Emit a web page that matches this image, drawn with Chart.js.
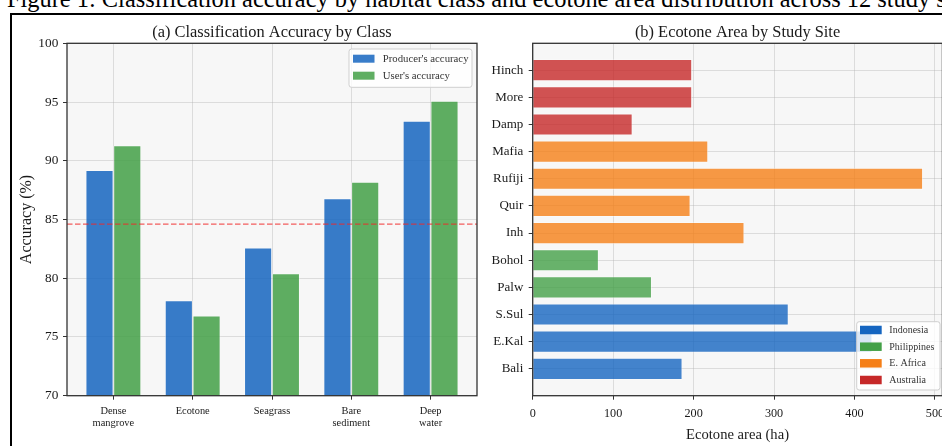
<!DOCTYPE html>
<html>
<head>
<meta charset="utf-8">
<script src="https://cdn.jsdelivr.net/npm/chart.js@4.4.1/dist/chart.umd.min.js"></script>
<style>
  html, body { margin: 0; padding: 0; background: #fff; }
  #fig { position: relative; width: 942px; height: 446px; overflow: hidden; background: #fff; }
  #caption {
    position: absolute; left: 7px; top: -12.8px;
    font-family: 'Liberation Serif', 'Times New Roman', serif;
    font-size: 24.4px; line-height: 24.4px; white-space: nowrap; color: #000;
  }
  #frame {
    position: absolute; left: 10px; top: 13px; width: 1000px; height: 500px;
    border: 2px solid #000; box-sizing: border-box; pointer-events: none;
  }
  canvas { position: absolute; top: 0; }
  #accuracyChart { left: 0; }
  #areaChart { left: 480px; }
</style>
</head>
<body>
<div id="fig">
  <div id="caption">Figure 1: Classification accuracy by habitat class and ecotone area distribution across 12 study sites.</div>
  <canvas id="accuracyChart" width="480" height="446"></canvas>
  <canvas id="areaChart" width="480" height="446"></canvas>
  <div id="frame"></div>
</div>
<script>
// ---- Panel (a): accuracy per habitat class ----
const habitatClasses = ['Dense mangrove', 'Ecotone', 'Seagrass', 'Bare sediment', 'Deep water'];
const classTickLabels = [['Dense', 'mangrove'], ['Ecotone'], ['Seagrass'], ['Bare', 'sediment'], ['Deep', 'water']];
const producersAccuracy = [89.2, 78.1, 82.6, 86.8, 93.4];
const usersAccuracy = [91.3, 76.8, 80.4, 88.2, 95.1];
const overallAccuracy = 84.6;
const accuracyRange = [70, 100];
const accuracyStep = 5;

// ---- Panel (b): ecotone area per study site (bottom to top) ----
const siteNames = ['Bali', 'E.Kal', 'S.Sul', 'Palw', 'Bohol', 'Inh', 'Quir', 'Rufiji', 'Mafia', 'Damp', 'More', 'Hinch'];
const siteRegions = ['Indonesia', 'Indonesia', 'Indonesia', 'Philippines', 'Philippines',
  'E. Africa', 'E. Africa', 'E. Africa', 'E. Africa', 'Australia', 'Australia', 'Australia'];
const ecotoneArea = [186, 422, 318, 148, 82, 263, 196, 485, 218, 124, 198, 198];
const areaTicks = [0, 100, 200, 300, 400, 500];
const regionNames = ['Indonesia', 'Philippines', 'E. Africa', 'Australia'];
const regionColors = ['#1565C0', '#43A047', '#F57F17', '#C62828'];
const classColors = { producers: '#1565C0', users: '#43A047' };

// ---- shared styling ----
const SERIF = "'Liberation Serif', 'Times New Roman', Times, serif";
const TEXT = '#1a1a1a';
const PLOT_BG = '#f7f7f7';
const GRID = 'rgba(176,176,176,0.38)';
const SPINE = '#333333';

function rgba(hex, a) {
  const n = parseInt(hex.slice(1), 16);
  return `rgba(${n >> 16},${(n >> 8) & 255},${n & 255},${a})`;
}

function roundRect(ctx, x, y, w, h, r) {
  ctx.beginPath();
  ctx.moveTo(x + r, y);
  ctx.lineTo(x + w - r, y); ctx.arcTo(x + w, y, x + w, y + r, r);
  ctx.lineTo(x + w, y + h - r); ctx.arcTo(x + w, y + h, x + w - r, y + h, r);
  ctx.lineTo(x + r, y + h); ctx.arcTo(x, y + h, x, y + h - r, r);
  ctx.lineTo(x, y + r); ctx.arcTo(x, y, x + r, y, r);
  ctx.closePath();
}

// Plot background, optional reference line, box spines, panel title and legend.
const plotFrame = {
  id: 'plotFrame',
  beforeDraw(chart) {
    const { ctx, chartArea: a } = chart;
    ctx.save();
    ctx.fillStyle = PLOT_BG;
    ctx.fillRect(a.left, a.top, a.right - a.left, a.bottom - a.top);
    ctx.restore();
  },
  afterDatasetsDraw(chart, args, opts) {
    const { ctx, chartArea: a } = chart;
    ctx.save();
    if (opts.refValue != null) {
      const y = chart.scales.y.getPixelForValue(opts.refValue);
      ctx.strokeStyle = 'rgba(240,40,40,0.75)';
      ctx.lineWidth = 1.3;
      ctx.setLineDash([5.5, 2.5]);
      ctx.beginPath(); ctx.moveTo(a.left, y); ctx.lineTo(a.right, y); ctx.stroke();
      ctx.setLineDash([]);
    }
    ctx.strokeStyle = SPINE;
    ctx.lineWidth = 1.3;
    ctx.strokeRect(a.left, a.top, a.right - a.left, a.bottom - a.top);
    ctx.restore();
  },
  afterDraw(chart, args, opts) {
    const { ctx, chartArea: a } = chart;
    ctx.save();
    // panel title
    ctx.fillStyle = TEXT;
    ctx.font = `16.4px ${SERIF}`;
    ctx.textAlign = 'center';
    ctx.textBaseline = 'alphabetic';
    ctx.fillText(opts.title, (a.left + a.right) / 2, 37);
    // legend
    const L = opts.legend;
    roundRect(ctx, L.x, L.y, L.w, L.h, 2.5);
    ctx.fillStyle = 'rgba(255,255,255,0.8)';
    ctx.fill();
    ctx.strokeStyle = '#cfcfcf';
    ctx.lineWidth = 1;
    ctx.stroke();
    ctx.font = `${L.fontSize}px ${SERIF}`;
    ctx.textAlign = 'left';
    ctx.textBaseline = 'middle';
    L.items.forEach((item, i) => {
      const cy = L.rows[i];
      ctx.fillStyle = item.color;
      ctx.fillRect(L.patchX, cy - L.patchH / 2, L.patchW, L.patchH);
      ctx.fillStyle = '#333';
      ctx.fillText(item.label, L.textX, cy + 0.5);
    });
    ctx.restore();
  }
};

function fixWidth(w) {
  return axis => { axis.width = w; axis.paddingTop = axis.paddingBottom = 0; };
}
function fixHeight(h) {
  return axis => { axis.height = h; axis.paddingLeft = axis.paddingRight = 0; };
}
const gridStyle = { color: GRID, lineWidth: 1, tickColor: SPINE, tickLength: 4, tickWidth: 1, offset: false };

// ---- Panel (a) ----
new Chart(document.getElementById('accuracyChart'), {
  type: 'bar',
  data: {
    datasets: [
      {
        label: "Producer's accuracy",
        data: producersAccuracy.map((v, i) => ({ x: i, y: v })),
        backgroundColor: rgba(classColors.producers, 0.85),
        borderColor: 'rgba(255,255,255,0.55)',
        borderWidth: 0.8
      },
      {
        label: "User's accuracy",
        data: usersAccuracy.map((v, i) => ({ x: i, y: v })),
        backgroundColor: rgba(classColors.users, 0.85),
        borderColor: 'rgba(255,255,255,0.55)',
        borderWidth: 0.8
      }
    ]
  },
  options: {
    responsive: false,
    animation: false,
    categoryPercentage: 0.7,
    barPercentage: 1.0,
    layout: { padding: { left: 0, top: 43.3, right: 3, bottom: 0 } },
    scales: {
      x: {
        type: 'linear',
        offset: false,
        min: -0.585,
        max: habitatClasses.length - 1 + 0.585,
        afterBuildTicks: axis => { axis.ticks = habitatClasses.map((_, i) => ({ value: i })); },
        afterFit: fixHeight(50.3),
        grid: gridStyle,
        border: { display: false },
        ticks: {
          callback: v => classTickLabels[v],
          font: { family: SERIF, size: 10.4, lineHeight: 1.12 },
          color: TEXT, padding: 6.2, maxRotation: 0, autoSkip: false
        }
      },
      y: {
        min: accuracyRange[0],
        max: accuracyRange[1],
        afterFit: fixWidth(67),
        grid: gridStyle,
        border: { display: false },
        ticks: {
          stepSize: accuracyStep,
          font: { family: SERIF, size: 13.3 },
          color: TEXT, padding: 4.7
        },
        title: {
          display: true,
          text: 'Accuracy (%)',
          font: { family: SERIF, size: 16 },
          color: TEXT,
          padding: { top: 17, bottom: 0 }
        }
      }
    },
    plugins: {
      legend: { display: false },
      tooltip: { enabled: false },
      plotFrame: {
        title: '(a) Classification Accuracy by Class',
        refValue: overallAccuracy,
        legend: {
          x: 349, y: 49, w: 123, h: 38.3,
          patchX: 353, patchW: 21.5, patchH: 8,
          textX: 382.7, fontSize: 10.75,
          rows: [58.7, 75.7],
          items: [
            { label: "Producer's accuracy", color: rgba(classColors.producers, 0.85) },
            { label: "User's accuracy", color: rgba(classColors.users, 0.85) }
          ]
        }
      }
    }
  },
  plugins: [plotFrame]
});

// ---- Panel (b) ----
const siteColors = siteRegions.map(r => rgba(regionColors[regionNames.indexOf(r)], 0.8));

new Chart(document.getElementById('areaChart'), {
  type: 'bar',
  data: {
    datasets: [{
      label: 'Ecotone area (ha)',
      data: ecotoneArea.map((v, i) => ({ x: v, y: i })),
      backgroundColor: siteColors,
      borderColor: 'rgba(255,255,255,0.55)',
      borderWidth: 0.8
    }]
  },
  options: {
    responsive: false,
    animation: false,
    indexAxis: 'y',
    categoryPercentage: 1.0,
    barPercentage: 0.8,
    layout: { padding: { left: 0, top: 43.3, right: 17.6, bottom: 0 } },
    scales: {
      x: {
        type: 'linear',
        offset: false,
        min: 0,
        max: 509.25,
        afterBuildTicks: axis => { axis.ticks = areaTicks.map(v => ({ value: v })); },
        afterFit: fixHeight(50.3),
        grid: gridStyle,
        border: { display: false },
        ticks: {
          callback: v => String(v),
          font: { family: SERIF, size: 12.2 },
          color: TEXT, padding: 7, maxRotation: 0, autoSkip: false
        },
        title: {
          display: true,
          text: 'Ecotone area (ha)',
          font: { family: SERIF, size: 14.6 },
          color: TEXT,
          padding: { top: 0, bottom: 2.2 }
        }
      },
      y: {
        type: 'linear',
        offset: false,
        min: -0.99,
        max: siteNames.length - 1 + 0.99,
        afterBuildTicks: axis => { axis.ticks = siteNames.map((_, i) => ({ value: i })); },
        afterFit: fixWidth(52.7),
        grid: gridStyle,
        border: { display: false },
        ticks: {
          callback: v => siteNames[v],
          font: { family: SERIF, size: 13 },
          color: TEXT, padding: 5.4, autoSkip: false
        }
      }
    },
    plugins: {
      legend: { display: false },
      tooltip: { enabled: false },
      plotFrame: {
        title: '(b) Ecotone Area by Study Site',
        legend: {
          x: 376.7, y: 321.7, w: 83.3, h: 68.3,
          patchX: 380, patchW: 21.7, patchH: 8.5,
          textX: 409.3, fontSize: 10,
          rows: [330, 346.7, 363.3, 380],
          items: regionNames.map((r, i) => ({ label: r, color: regionColors[i] }))
        }
      }
    }
  },
  plugins: [plotFrame]
});
</script>
</body>
</html>
